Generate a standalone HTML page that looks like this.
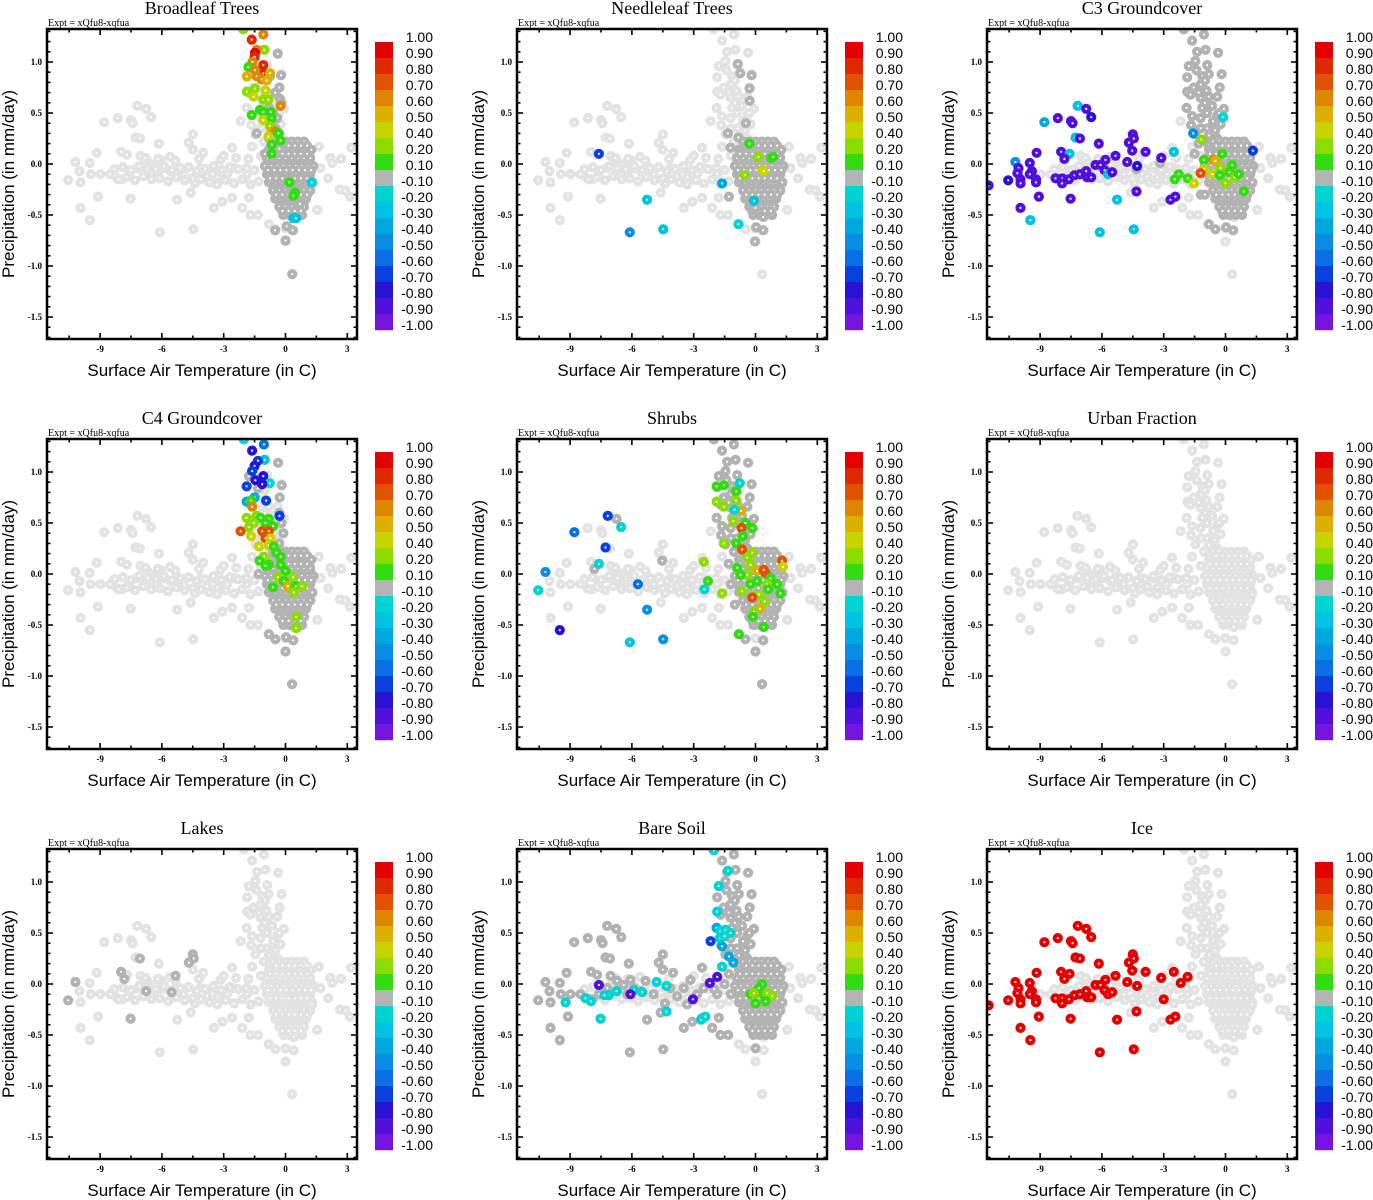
<!DOCTYPE html>
<html><head><meta charset="utf-8"><style>
html,body{margin:0;padding:0;background:#fff}
svg{display:block}
</style></head><body>
<svg id="chart" width="1373" height="1200" viewBox="0 0 1373 1200" xmlns="http://www.w3.org/2000/svg"></svg>
<script>
// ---------- shared background cloud (T in C, P in mm/day) ----------
const tailT=[-10.55,-10.2,-9.95,-9.5,-9.5,-9.17,-9.1,-10.0,-9.95,-9.45,-8.98,-8.5,-8.17,-8.8,-8.14,-7.5,-7.42,-7.2,-6.76,-6.52,-7.28,-7.07,-7.98,-7.69,-7.04,-6.72,-7.52,-7.93,-7.6,-7.2,-6.72,-6.4,-6.07,-5.9,-6.15,-6.23,-5.58,-5.26,-5.34,-4.94,-4.7,-4.5,-4.5,-4.6,-4.4,-4.0,-4.13,-3.8,-3.48,-3.32,-3.48,-3.16,-3.07,-2.83,-2.59,-2.51,-2.59,-2.18,-2.1,-1.86,-1.78,-1.7,-1.33,-1.62,-6.1,-4.48];
const tailP=[-0.16,0.02,-0.43,-0.55,0.01,0.11,-0.32,-0.07,-0.18,-0.10,-0.10,-0.10,-0.14,0.41,0.45,0.43,0.40,0.57,0.54,0.46,0.26,0.25,0.12,0.09,0.08,0.03,-0.34,-0.15,-0.10,-0.04,-0.07,-0.01,0.04,-0.04,0.20,-0.10,-0.07,-0.35,0.03,-0.10,0.21,0.29,0.14,-0.28,-0.19,0.11,-0.04,-0.12,-0.04,-0.20,-0.43,0.04,-0.37,-0.10,0.16,-0.04,-0.33,0.42,-0.43,-0.10,-0.33,-0.50,-0.50,0.17,-0.67,-0.64];
const tailFillT=[-8.3,-7.9,-7.5,-7.1,-6.7,-6.3,-5.9,-5.5,-5.1,-4.7,-4.3,-3.9,-3.5,-3.1,-2.7,-2.3,-1.9,-1.5,-8.1,-7.7,-7.3,-6.9,-6.5,-6.1,-5.7,-5.3,-4.9,-4.5,-4.1,-3.7,-3.3,-2.9,-2.5,-2.1,-1.7,-1.3,-6.8,-6.2,-5.6,-4.2,-3.0,-2.4,-1.8,-1.2];
const tailFillP=[-0.05,-0.03,-0.06,-0.02,-0.04,-0.05,-0.02,-0.06,-0.04,-0.03,-0.07,-0.05,-0.02,-0.06,-0.03,-0.05,-0.04,-0.06,-0.15,-0.13,-0.16,-0.12,-0.15,-0.14,-0.17,-0.13,-0.16,-0.14,-0.15,-0.18,-0.13,-0.16,-0.19,-0.15,-0.2,-0.17,0.06,0.05,0.07,0.05,0.08,0.06,0.05,0.08];
const plumeUpT=[-2.02,-1.62,-1.05,-1.38,-0.97,-0.36,-1.78,-1.46,-0.89,-1.41,-1.86,-1.13,-0.81,-0.19,-1.54,-1.86,-0.92,-0.28,-1.21,-0.81,-0.4,-1.7,-1.2,-1.0,-1.3];
const plumeUpP=[1.32,1.21,1.27,1.10,1.12,1.09,0.96,1.01,0.97,0.92,0.85,0.86,0.88,0.88,0.75,0.71,0.72,0.75,0.65,0.66,0.66,0.68,0.78,0.82,0.70];
const plumeLoT=[-0.08,-1.89,-1.13,-0.65,-1.62,-1.21,-0.4,-1.67,-1.46,-0.89,-0.24,-1.05,-0.4,-0.9,-0.6,-0.8,-1.2,-0.5,-0.3,-1.0];
const plumeLoP=[0.54,0.55,0.55,0.57,0.47,0.45,0.48,0.38,0.29,0.35,0.39,0.22,0.25,0.5,0.42,0.28,0.35,0.33,0.5,0.6];
const coreT=[-0.6,-0.3,0.0,0.3,0.6,0.9, -0.8,-0.5,-0.2,0.1,0.4,0.7,1.0,1.25, -0.9,-0.6,-0.3,0.0,0.3,0.6,0.9,1.2, -1.0,-0.7,-0.4,-0.1,0.2,0.5,0.8,1.1,1.35, -0.9,-0.6,-0.3,0.0,0.3,0.6,0.9,1.2, -0.8,-0.5,-0.2,0.1,0.4,0.7,1.0,1.3, -0.6,-0.3,0.0,0.3,0.6,0.9,1.2, -0.5,-0.2,0.1,0.4,0.7,1.0, -0.3,0.0,0.3,0.6,0.9, -0.1,0.2,0.5,0.8];
const coreP=[0.22,0.22,0.22,0.22,0.22,0.22, 0.14,0.14,0.14,0.14,0.14,0.14,0.14,0.14, 0.06,0.06,0.06,0.06,0.06,0.06,0.06,0.06, -0.02,-0.02,-0.02,-0.02,-0.02,-0.02,-0.02,-0.02,-0.02, -0.10,-0.10,-0.10,-0.10,-0.10,-0.10,-0.10,-0.10, -0.18,-0.18,-0.18,-0.18,-0.18,-0.18,-0.18,-0.18, -0.26,-0.26,-0.26,-0.26,-0.26,-0.26,-0.26, -0.34,-0.34,-0.34,-0.34,-0.34,-0.34, -0.42,-0.42,-0.42,-0.42,-0.42, -0.50,-0.50,-0.50,-0.50];
const coreFillT=[-0.45,-0.15,0.15,0.45,0.75,1.05, -0.75,-0.45,-0.15,0.15,0.45,0.75,1.05, -0.85,-0.55,-0.25,0.05,0.35,0.65,0.95,1.25, -0.75,-0.45,-0.15,0.15,0.45,0.75,1.05, -0.45,-0.15,0.15,0.45,0.75,1.05, -0.15,0.15,0.45,0.75];
const coreFillP=[0.18,0.18,0.18,0.18,0.18,0.18, 0.10,0.10,0.10,0.10,0.10,0.10,0.10, -0.06,-0.06,-0.06,-0.06,-0.06,-0.06,-0.06,-0.06, -0.14,-0.14,-0.14,-0.14,-0.14,-0.14,-0.14, -0.30,-0.30,-0.30,-0.30,-0.30,-0.30, -0.46,-0.46,-0.46,-0.46];
const edgeT=[1.62,2.18,2.7,3.19,2.07,1.54,2.64,2.91,3.12,1.7,2.27,1.29,-0.81,-0.49,0,0.4,0,0.32,0.4];
const edgeP=[0.17,0.06,0.05,0.16,-0.14,-0.45,-0.25,-0.26,-0.32,-0.04,0.01,-0.2,-0.59,-0.64,-0.63,-0.65,-0.76,-1.08,-0.52];

// ---------- panel-specific dark grey (|r| < 0.1) points ----------
const broadleafDarkT=[-0.38,-0.22,-0.3,-0.27,-0.75,-1.4,-1.0,-0.5,0,0.33,0.06,0.35,0.7,-0.8,-0.6,-0.4,-0.7,-0.5,-0.3,-0.8,-0.6,-0.3,-0.7,-0.2,-0.5];
const broadleafDarkP=[1.08,0.87,0.75,0.64,0.86,0.30,0.10,-0.65,-0.75,-1.08,-0.61,-0.65,-0.39,0.55,0.5,0.45,0.4,0.35,0.3,0.25,0.2,0.15,0.1,0.6,0.7];
const needleDarkT=[-0.86,-0.74,-0.19,-0.29,-0.28,-0.47,-1.34,-0.83,-1.21,-1.29,0,0.37,0.03,0.37,-0.03,-0.24];
const needleDarkP=[0.98,0.89,0.87,0.74,0.62,0.40,0.30,0.26,0.16,-0.32,-0.43,-0.52,-0.62,-0.65,-0.76,-0.38];
const c3DarkT=[-3.16,-4.32,-0.81,-0.49,0.03,0.37,-1.3,-1.5,-1.2,-1.0];
const c3DarkP=[0.01,-0.05,-0.59,-0.64,-0.62,-0.65,0.2,0.1,-0.3,-0.3];
const c4DarkT=[-0.36,-0.19,-0.28,-1.78,-1.34,-1.31,-0.3,-0.2,-0.1,-0.3,-0.5,-0.2,-0.81,-0.49,0.03,0.37,0,0.32];
const c4DarkP=[1.09,0.87,0.75,0.96,0.84,0,0.6,0.5,0.4,0.3,0.25,0.2,-0.59,-0.64,-0.62,-0.65,-0.76,-1.08];
const shrubDarkT=[-6.75,-7.82,-4.53,-0.49,0.37,0,0.32,-1.3,-1.2,-1.0];
const shrubDarkP=[0.54,0.05,0.13,-0.64,-0.65,-0.76,-1.08,0.1,-0.1,-0.3];
const soilDarkT=[0,-1.3,-1.5,-2.0,-1.2];
const soilDarkP=[-0.63,0.1,0.0,-0.05,-0.1];
const lakeDarkT=[-10.55,-10.2,-7.98,-7.82,-7.07,-6.76,-7.52,-5.34,-5.53,-4.69,-4.5,-4.45];
const lakeDarkP=[-0.16,0.02,0.12,0.05,0.25,-0.07,-0.34,0.08,-0.08,0.21,0.29,0.25];

// ---------- coloured (correlation) points ----------
const broadleafT=[-2.05,-1.08,-1.64,-1.03,-1.4,-1.48,-1.5,-1.6,-1.08,-1.8,-1.08,-0.75,-1.48,-1.88,-1.4,-1.16,-0.91,-1.48,-0.97,-1.88,-1.56,-1.08,-0.83,-0.24,-1.24,-1.08,-0.72,-1.64,-1.08,-0.67,-0.75,-0.67,-0.51,-0.83,-0.35,-0.24,-0.67,-0.67,0.19,0.46,0.38,0.38,0.51,1.27];
const broadleafP=[1.32,1.27,1.22,1.12,1.12,1.09,1.05,1.0,0.97,0.95,0.89,0.89,0.92,0.86,0.86,0.83,0.82,0.74,0.72,0.71,0.66,0.63,0.63,0.57,0.53,0.51,0.51,0.48,0.43,0.45,0.37,0.32,0.32,0.27,0.30,0.23,0.19,0.10,-0.18,-0.28,-0.31,-0.53,-0.53,-0.18];
const broadleafV=[0.2,0.6,0.8,0.2,0.6,0.9,0.8,0.6,0.8,0.1,0.8,0.5,0.6,0.5,0.6,0.6,0.5,0.2,0.4,0.2,0.4,0.2,0.2,0.6,0.1,0.1,0.1,0.1,0.4,0.1,0.2,0.5,0.6,0.4,0.1,0.1,0.1,0.1,0.1,0.1,0.1,-0.3,-0.3,-0.2];
const needleT=[-0.29,0.13,0.76,0.86,0.32,0.40,-0.52,-7.6,-1.62,-5.26,-6.1,-4.48,-0.83,-0.08];
const needleP=[0.2,0.07,0.06,0.07,-0.06,-0.07,-0.11,0.10,-0.19,-0.35,-0.67,-0.64,-0.59,-0.36];
const needleV=[0.1,0.2,0.1,0.1,0.4,0.4,0.2,-0.7,-0.4,-0.3,-0.5,-0.3,-0.2,-0.3];
const c3TailT=[-11.5,-10.55,-10.2,-10.05,-10.1,-9.95,-9.95,-9.95,-9.5,-9.4,-9.5,-9.2,-9.2,-9.17,-9.06,-9.47,-8.79,-8.14,-7.5,-7.42,-7.17,-6.76,-6.52,-7.28,-7.07,-7.98,-7.57,-7.82,-8.25,-7.93,-7.6,-7.93,-7.33,-7.07,-6.76,-6.72,-6.52,-7.52,-6.31,-6.07,-6.15,-5.83,-5.87,-5.7,-5.5,-6.1,-5.26,-5.34,-4.77,-4.69,-4.5,-4.45,-4.53,-4.29,-4.32,-3.88,-4.45,-3.12,-2.51,-2.67,-2.43];
const c3TailP=[-0.21,-0.16,0.02,-0.04,-0.09,-0.15,-0.19,-0.43,0.01,-0.07,-0.10,-0.15,-0.18,0.11,-0.32,-0.55,0.41,0.45,0.42,0.40,0.57,0.54,0.46,0.26,0.25,0.12,0.10,0.05,-0.14,-0.14,-0.15,-0.19,-0.11,-0.10,-0.07,-0.13,-0.13,-0.34,-0.01,-0.01,0.20,0.04,-0.06,-0.10,-0.08,-0.67,-0.35,0.08,0.02,0.21,0.29,0.25,0.13,-0.02,-0.27,0.12,-0.64,0.06,0.12,-0.35,-0.32];
const c3TailV=[-0.9,-0.8,-0.5,-0.9,-0.9,-0.9,-0.9,-0.9,-0.9,-0.9,-0.9,-0.9,-0.9,-0.9,-0.9,-0.3,-0.4,-0.9,-0.9,-0.9,-0.3,-0.9,-0.8,-0.3,-0.9,-0.9,-0.3,-0.9,-0.9,-0.9,-0.9,-0.9,-0.9,-0.9,-0.9,-0.9,-0.9,-0.9,-0.9,-0.9,-0.9,-0.9,-0.9,-0.3,-0.9,-0.3,-0.3,-0.9,-0.9,-0.9,-0.9,-0.9,-0.9,-0.8,-0.9,-0.9,-0.3,-0.9,-0.3,-0.9,-0.9];
const c3CoreT=[-2.27,-2.46,-1.83,-1.54,-1.17,-1.57,-1.05,-1.05,-1.21,-0.57,-0.49,-0.16,-0.24,-0.63,-0.28,0.19,0.32,0.45,0.65,0,0.89,1.33,-0.11];
const c3CoreP=[-0.10,-0.15,-0.14,-0.19,0.24,0.30,0.04,-0.05,-0.09,0.04,0.03,0.10,-0.04,-0.10,-0.11,-0.08,-0.01,-0.13,-0.1,-0.19,-0.27,0.13,0.46];
const c3CoreV=[0.1,0.1,0.1,0.4,0.2,-0.5,0.1,0.4,0.7,0.6,0.5,0.1,0.2,0.4,0.1,0.1,0.1,0.2,0.1,0.2,0.1,-0.7,-0.2];
const c4T=[-2.02,-1.05,-1.62,-1.02,-1.34,-1.5,-1.62,-1.46,-1.08,-0.76,-1.89,-1.13,-0.94,-1.5,-1.89,-1.67,-1.62,-0.29,-1.89,-1.41,-1.21,-0.81,-1.54,-1.78,-0.97,-0.6,-2.18,-1.13,-0.81,-1.67,-0.97,-0.73,-1.29,-0.81,-0.57,-1.05,-1.26,-0.44,-0.24,-0.81,-0.97,-0.24,0,-0.37,0.37,-0.08,0.11,0.49,0.81,0.4,-0.61,0.52,0.52];
const c4P=[1.32,1.27,1.21,1.12,1.11,1.06,1.01,0.92,0.96,0.89,0.86,0.88,0.72,0.75,0.71,0.72,0.66,0.57,0.55,0.57,0.55,0.54,0.5,0.46,0.5,0.47,0.42,0.42,0.42,0.37,0.35,0.35,0.27,0.28,0.27,0.17,0.13,0.21,0.17,0.09,0.08,0.09,0.03,-0.03,-0.03,-0.07,-0.12,-0.12,-0.12,-0.18,-0.13,-0.42,-0.53];
const c4V=[-0.2,-0.6,-0.8,-0.3,-0.7,-0.8,-0.7,-0.8,-0.8,-0.2,-0.7,-0.8,-0.7,-0.4,-0.4,0.1,0.6,-0.7,0.2,0.2,0.1,0.1,0.2,0.2,0.1,0.1,0.7,0.7,0.7,0.4,0.7,0.4,0.4,0.4,0.1,0.2,0.1,0.1,0.1,0.1,0.1,0.1,0.1,0.2,0.2,0.1,0.5,0.1,0.2,0.2,0.1,0.2,0.2];
const shrubT=[-7.17,-6.52,-8.79,-7.28,-7.6,-10.2,-10.55,-9.5,-5.71,-5.26,-6.1,-4.48,-2.51,-2.31,-2.48,-1.62,-1.89,-1.54,-0.76,-0.94,-0.94,-1.89,-1.54,-0.7,-1.02,-1.08,-0.49,-0.68,-0.15,-0.61,-1.54,-0.94,-0.65,-0.16,-0.4,-0.89,-0.24,0.08,0.49,0.4,-0.4,-0.73,0.73,0.08,0.57,1.05,-0.24,-0.65,0.16,0.61,1.21,-0.16,0.44,0.21,-0.08,-0.13,0.4,-0.81,1.29,1.33];
const shrubP=[0.57,0.46,0.41,0.26,0.10,0.02,-0.16,-0.55,-0.10,-0.35,-0.67,-0.64,0.12,-0.07,-0.15,-0.19,0.86,0.87,0.89,0.81,0.72,0.71,0.66,0.62,0.63,0.52,0.50,0.45,0.45,0.37,0.30,0.30,0.24,0.21,0.16,0.06,0.09,0.03,0.01,0.04,-0.01,-0.01,-0.04,-0.07,-0.1,-0.1,-0.1,-0.17,-0.2,-0.15,-0.19,-0.23,-0.27,-0.34,-0.37,-0.42,-0.52,-0.59,0.13,0.07];
const shrubV=[-0.7,-0.2,-0.6,-0.7,-0.2,-0.5,-0.2,-0.8,-0.6,-0.5,-0.3,-0.5,0.2,0.1,-0.2,0.2,0.1,0.1,-0.2,0.1,0.2,0.2,0.2,0.5,-0.2,0.2,0.1,0.7,0.1,0.1,0.2,0.1,0.7,0.2,0.2,0.1,0.2,0.5,0.7,0.7,0.2,0.1,0.1,0.1,0.2,0.1,0.1,0.2,0.2,0.1,0.1,0.7,0.2,0.5,0.2,0.1,0.1,0.1,0.7,0.4];
const soilT=[-2.02,-1.34,-1.78,-1.86,-1.89,-1.7,-1.46,-1.21,-1.73,-1.5,-2.18,-1.62,-1.29,-1.08,-1.62,-1.86,-2.22,-3.04,-2.64,-2.43,-4.8,-4.32,-5.5,-5.9,-6.07,-6.75,-7.12,-7.33,-7.6,-7.98,-8.25,-9.22,-7.52,-4.32,-0.24,0,0.32,0.4,0.57,0.81,0,0.49,0.16,-0.08];
const soilP=[1.31,1.11,0.96,0.71,0.55,0.52,0.53,0.50,0.45,0.47,0.42,0.37,0.27,0.21,0.17,0.07,0.01,-0.15,-0.35,-0.32,0.02,-0.02,-0.08,-0.06,-0.10,-0.07,-0.11,-0.11,-0.01,-0.17,-0.14,-0.18,-0.34,-0.27,-0.10,-0.1,0,-0.1,-0.09,-0.12,-0.19,-0.17,-0.04,-0.09];
const soilV=[-0.2,-0.2,-0.2,-0.2,-0.4,-0.2,-0.2,-0.2,-0.2,-0.2,-0.7,-0.4,-0.4,-0.4,-0.2,-0.9,-0.9,-0.9,-0.2,-0.2,-0.2,-0.2,-0.2,-0.2,-0.9,-0.2,-0.2,-0.2,-0.9,-0.2,-0.2,-0.2,-0.2,-0.2,0.1,0.2,0.1,0.1,0.2,0.2,0.1,0.1,0.1,0.2];
const iceT=c3TailT.concat([-1.84,-2.17,-3.0]);
const iceP=c3TailP.concat([0.07,0.01,-0.15]);
const iceV=[0.95,0.95,0.95,0.95,0.95,0.95,0.95,0.95,0.95,0.95,0.95,0.95,0.95,0.95,0.95,0.95,0.95,0.95,0.95,0.95,0.95,0.95,0.95,0.95,0.95,0.95,0.95,0.95,0.95,0.95,0.95,0.95,0.95,0.95,0.95,0.95,0.95,0.95,0.95,0.95,0.95,0.95,0.95,0.95,0.95,0.95,0.95,0.95,0.95,0.95,0.95,0.95,0.95,0.95,0.95,0.95,0.95,0.95,0.95,0.95,0.95,0.95,0.95,0.95];

// ---------- axes / colour bar ----------
const xTickLabels=[-9,-6,-3,0,3];
const yTickLabels=[1.0,0.5,0.0,-0.5,-1.0,-1.5];
const cbarLabels=["1.00","0.90","0.80","0.70","0.60","0.50","0.40","0.20","0.10","-0.10","-0.20","-0.30","-0.40","-0.50","-0.60","-0.70","-0.80","-0.90","-1.00"];
const cbarColors=["#e30000","#dd2800","#e05200","#de8600","#dcb000","#c8d400","#8cdc00","#33dc10","#b4b4b4","#00d4d2","#00c2e2","#00a8e0","#0a8ee4","#0a6ee4","#0a40dc","#2812d4","#5010dc","#7414dc"];
const titles=["Broadleaf Trees","Needleleaf Trees","C3 Groundcover","C4 Groundcover","Shrubs","Urban Fraction","Lakes","Bare Soil","Ice"];
const LIGHT="#e2e2e2", DARK="#b2b2b2";

const NS="http://www.w3.org/2000/svg";
const svg=document.getElementById('chart');
function mk(tag,attrs,parent){const e=document.createElementNS(NS,tag);for(const k in attrs)e.setAttribute(k,attrs[k]);(parent||svg).appendChild(e);return e;}
function colorFor(v){
  const pos=[0.9,0.8,0.7,0.6,0.5,0.4,0.2,0.1];
  if(v>=0.1-1e-9){for(let i=0;i<pos.length;i++){if(v>=pos[i]-1e-9)return cbarColors[i];}}
  if(v<=-0.2+1e-9){let i=9+Math.round((-v-0.2)/0.1);return cbarColors[Math.min(17,i)];}
  return cbarColors[8];
}

const light=[[tailT,tailP],[tailFillT,tailFillP],[plumeUpT,plumeUpP],[plumeLoT,plumeLoP],[coreT,coreP],[coreFillT,coreFillP],[edgeT,edgeP]];
const panels=[
 {dark:[[coreT,coreP],[coreFillT,coreFillP],[broadleafDarkT,broadleafDarkP]],col:[[broadleafT,broadleafP,broadleafV]]},
 {dark:[[coreT,coreP],[coreFillT,coreFillP],[needleDarkT,needleDarkP]],col:[[needleT,needleP,needleV]]},
 {dark:[[plumeUpT,plumeUpP],[plumeLoT,plumeLoP],[coreT,coreP],[coreFillT,coreFillP],[c3DarkT,c3DarkP]],col:[[c3TailT,c3TailP,c3TailV],[c3CoreT,c3CoreP,c3CoreV]]},
 {dark:[[coreT,coreP],[coreFillT,coreFillP],[c4DarkT,c4DarkP]],col:[[c4T,c4P,c4V]]},
 {dark:[[plumeUpT,plumeUpP],[plumeLoT,plumeLoP],[coreT,coreP],[coreFillT,coreFillP],[shrubDarkT,shrubDarkP]],col:[[shrubT,shrubP,shrubV]]},
 {dark:[],col:[]},
 {dark:[[lakeDarkT,lakeDarkP]],col:[]},
 {dark:[[tailT,tailP],[plumeUpT,plumeUpP],[plumeLoT,plumeLoP],[coreT,coreP],[coreFillT,coreFillP],[soilDarkT,soilDarkP]],col:[[soilT,soilP,soilV]]},
 {dark:[],col:[[iceT,iceP,iceV]]}
];

panels.forEach((pd,idx)=>{
  const ox=(idx%3)*470, oy=Math.floor(idx/3)*410;
  const x0=ox+47,x1=ox+357,y0=oy+29,y1=oy+339;
  const xs=t=>ox+285.5+20.6*t;
  const ys=p=>oy+164-102*p;
  const g=mk('g',{});
  
  
  const cp=mk('clipPath',{id:'cp'+idx},g);
  mk('rect',{x:x0,y:y0,width:x1-x0,height:y1-y0},cp);
  const t=mk('text',{x:ox+202,y:oy+14,'text-anchor':'middle','font-family':'Liberation Serif, serif','font-size':'18'},g);
  t.textContent=titles[idx];
  
  
  const ex=mk('text',{x:ox+48,y:oy+26,'font-family':'Liberation Serif, serif','font-size':'10'},g);
  ex.textContent='Expt = xQfu8-xqfua';
  
  
  const pts=mk('g',{'clip-path':'url(#cp'+idx+')'},g);
  
  
  const draw=(T,P,c)=>{for(let i=0;i<T.length;i++){const c1=mk('circle',{cx:xs(T[i]).toFixed(1),cy:ys(P[i]).toFixed(1),r:3.1,fill:'#fff',stroke:c,'stroke-width':4},pts);
    
    }};
  light.forEach(a=>draw(a[0],a[1],LIGHT));
  pd.dark.forEach(a=>draw(a[0],a[1],DARK));
  pd.col.forEach(a=>{for(let i=0;i<a[0].length;i++){draw([a[0][i]],[a[1][i]],colorFor(a[2][i]));}});
  const fr=mk('rect',{x:x0,y:y0,width:x1-x0,height:y1-y0,fill:'none',stroke:'#000','stroke-width':2.5},g);
  
  
  for(let k=-7;k<=2;k++){const v=k*1.5;const x=xs(v);if(x<x0||x>x1)continue;const L=(k%2===0)?6:3.5;
    mk('line',{x1:x,x2:x,y1:y1,y2:y1-L,stroke:'#000','stroke-width':1.6},g);
    mk('line',{x1:x,x2:x,y1:y0,y2:y0+L,stroke:'#000','stroke-width':1.6},g);}
  xTickLabels.forEach(v=>{const tx=mk('text',{x:xs(v),y:oy+352,'text-anchor':'middle','font-family':'Liberation Serif, serif','font-size':'9','font-weight':'bold'},g);tx.textContent=String(v);
    
    });
  for(let k=-17;k<=13;k++){const v=k/10;const y=ys(v);if(y<y0+1||y>y1-1)continue;const L=(k%5===0)?6:3.5;
    mk('line',{x1:x0,x2:x0+L,y1:y,y2:y,stroke:'#000','stroke-width':1.6},g);
    mk('line',{x1:x1,x2:x1-L,y1:y,y2:y,stroke:'#000','stroke-width':1.6},g);}
  yTickLabels.forEach(v=>{const ty=mk('text',{x:ox+42,y:ys(v)+3,'text-anchor':'end','font-family':'Liberation Serif, serif','font-size':'9','font-weight':'bold'},g);ty.textContent=v.toFixed(1);
    
    });
  const xl=mk('text',{x:ox+202,y:oy+376,'text-anchor':'middle','font-family':'Liberation Sans, sans-serif','font-size':'17'},g);
  xl.textContent='Surface Air Temperature (in C)';
  
  
  const yl=mk('text',{x:0,y:0,'text-anchor':'middle','font-family':'Liberation Sans, sans-serif','font-size':'17',transform:'translate('+(ox+14)+','+(oy+184)+') rotate(-90)'},g);
  yl.textContent='Precipitation (in mm/day)';
  
  
  const cb=mk('g',{},g);
  
  
  cbarColors.forEach((c,i)=>{const r=mk('rect',{x:ox+375,y:oy+42+16*i,width:18,height:16.2,fill:c},cb);
    
    });
  cbarLabels.forEach((s,i)=>{const lt=mk('text',{x:ox+433,y:oy+42+16*i,'text-anchor':'end','font-family':'Liberation Sans, sans-serif','font-size':'14'},cb);
    lt.textContent=s;
    
    });
});
</script>
</body></html>
